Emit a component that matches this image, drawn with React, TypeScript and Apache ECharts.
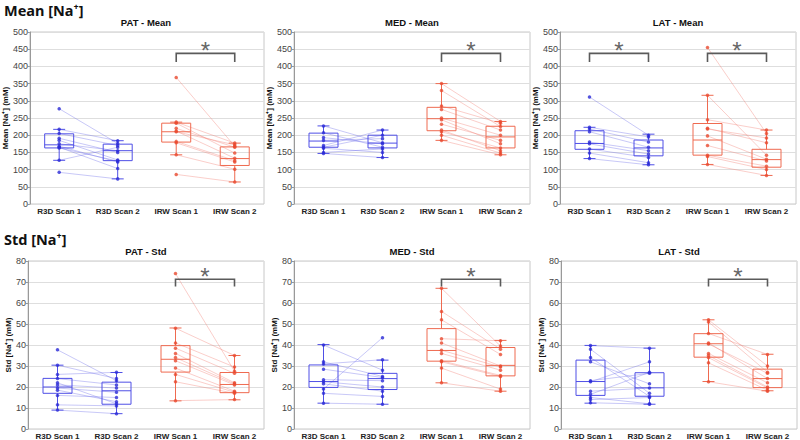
import React, { useEffect, useRef } from 'react';
import * as echarts from 'echarts';

const categories = ['R3D Scan 1', 'R3D Scan 2', 'IRW Scan 1', 'IRW Scan 2'];
const panelTitles = ['PAT - Mean', 'MED - Mean', 'LAT - Mean', 'PAT - Std', 'MED - Std', 'LAT - Std'];
const rowHeaders = ['Mean [Na⁺]', 'Std [Na⁺]'];
const yNames = ['Mean [Na⁺] (mM)', 'Std [Na⁺] (mM)'];
const meanAxis = [0, 500, 50];
const stdAxis = [0, 80, 10];

// PAT - Mean
const patMeanR3D1 = [277, 217, 205, 191, 185, 175, 168, 165, 163, 127, 92];
const patMeanR3D2 = [176, 184, 170, 150, 128, 155, 122, 103, 125, 165, 73];
const patMeanIRW1 = [368, 238, 235, 220, 212, 210, 182, 178, 143, 86];
const patMeanIRW2 = [168, 177, 148, 165, 133, 172, 126, 122, 101, 64];
const patMeanBox = [[127, 163, 172, 204, 217], [73, 126, 155, 174, 184], [143, 180, 210, 235, 238], [64, 112, 132, 166, 177]];
// MED - Mean
const medMeanR3D1 = [227, 207, 193, 170, 165, 162, 150, 147, 185];
const medMeanR3D2 = [178, 165, 175, 215, 200, 150, 160, 135, 190];
const medMeanIRW1 = [350, 330, 285, 275, 250, 245, 232, 215, 210, 200, 185];
const medMeanIRW2 = [240, 225, 235, 215, 200, 175, 185, 155, 163, 148, 143];
const medMeanBox = [[147, 165, 183, 206, 227], [135, 163, 177, 200, 215], [185, 213, 248, 281, 350], [143, 163, 195, 226, 240]];
// LAT - Mean
const latMeanR3D1 = [311, 223, 218, 210, 180, 175, 160, 148, 132];
const latMeanR3D2 = [200, 195, 180, 165, 155, 145, 135, 120, 114];
const latMeanIRW1 = [455, 316, 245, 220, 218, 198, 170, 142, 138, 115];
const latMeanIRW2 = [205, 142, 215, 178, 192, 130, 125, 110, 100, 83];
const latMeanBox = [[132, 159, 176, 213, 223], [114, 140, 163, 186, 203], [115, 142, 186, 234, 316], [83, 107, 129, 159, 215]];
// PAT - Std
const patStdR3D1 = [37.7, 30.4, 26, 24, 22, 21, 19.5, 18.5, 16, 11.5, 9.0];
const patStdR3D2 = [23, 24, 27, 21, 12, 19.5, 17.5, 13, 15, 11, 7.3];
const patStdIRW1 = [74, 48, 41, 38.5, 36, 34, 32.5, 29, 26, 22.5, 13.5];
const patStdIRW2 = [27.5, 35, 29.5, 26.5, 22, 21.5, 21, 18, 17.5, 17, 14];
const patStdBox = [[9, 17, 20, 24.1, 30.4], [7.3, 11.8, 18.2, 22.3, 26.9], [13.4, 27.1, 33.2, 39.7, 48.1], [13.9, 17.3, 21.2, 26.9, 35]];
// MED - Std
const medStdR3D1 = [40, 32, 31, 28.5, 23.5, 22.5, 21.5, 19, 17, 12.3];
const medStdR3D2 = [28, 25, 33, 24.5, 23, 20, 18, 43.5, 15.5, 11.8];
const medStdIRW1 = [67, 56, 52, 43, 41, 37.5, 36, 32.5, 32, 29, 22];
const medStdIRW2 = [39.5, 38, 35.5, 42, 30, 29.5, 28, 25.5, 25, 19, 18];
const medStdBox = [[12.3, 19.8, 22.6, 30.5, 40.2], [11.8, 18.8, 24, 26.5, 32.8], [22, 32.3, 37.4, 47.8, 67], [18, 25.3, 30.3, 38.8, 42.2]];
// LAT - Std
const latStdR3D1 = [39.7, 38, 34, 32, 23, 22.5, 18, 16.5, 15, 14, 12.5];
const latStdR3D2 = [38.5, 17, 15.5, 21.5, 26.5, 32, 19.5, 27, 12, 15, 11.8];
const latStdIRW1 = [52, 51, 45.5, 41, 40.5, 36, 35, 34, 31.5, 22.5];
const latStdIRW2 = [30, 27, 35.5, 24, 26.5, 22, 20, 19.5, 18.5, 18];
const latStdBox = [[12.3, 16, 22.6, 32.8, 39.8], [11.8, 15.6, 19.6, 26.8, 38.5], [22.6, 34.2, 40.6, 45.4, 52], [18.2, 19.7, 24, 28.5, 35.6]];

// significance brackets: [category a, category b]
const patMeanSig = [[2, 3]];
const medMeanSig = [[2, 3]];
const latMeanSig = [[0, 1], [2, 3]];
const patStdSig = [[2, 3]];
const medStdSig = [[2, 3]];
const latStdSig = [[2, 3]];
const meanSigLevels = [413, 438];
const stdSigLevels = [67.8, 71.3];

const panels = [
  { r: [patMeanR3D1, patMeanR3D2, patMeanIRW1, patMeanIRW2], box: patMeanBox, sig: patMeanSig, lv: meanSigLevels, ax: meanAxis, yName: yNames[0] },
  { r: [medMeanR3D1, medMeanR3D2, medMeanIRW1, medMeanIRW2], box: medMeanBox, sig: medMeanSig, lv: meanSigLevels, ax: meanAxis, yName: yNames[0] },
  { r: [latMeanR3D1, latMeanR3D2, latMeanIRW1, latMeanIRW2], box: latMeanBox, sig: latMeanSig, lv: meanSigLevels, ax: meanAxis, yName: yNames[0] },
  { r: [patStdR3D1, patStdR3D2, patStdIRW1, patStdIRW2], box: patStdBox, sig: patStdSig, lv: stdSigLevels, ax: stdAxis, yName: yNames[1] },
  { r: [medStdR3D1, medStdR3D2, medStdIRW1, medStdIRW2], box: medStdBox, sig: medStdSig, lv: stdSigLevels, ax: stdAxis, yName: yNames[1] },
  { r: [latStdR3D1, latStdR3D2, latStdIRW1, latStdIRW2], box: latStdBox, sig: latStdSig, lv: stdSigLevels, ax: stdAxis, yName: yNames[1] },
];

const layout = [
  { left: 28, top: 32, height: 172 },
  { left: 294, top: 32, height: 172 },
  { left: 560, top: 32, height: 172 },
  { left: 28, top: 261, height: 171 },
  { left: 294, top: 261, height: 171 },
  { left: 561, top: 261, height: 171 },
];
const GRID_W = 236;

const BLUE_BOX = '#4f4fe6';
const BLUE_PT = '#2b2bd6';
const RED_BOX = '#ef6a50';
const RED_PT = '#e94a30';
const BLUE_LINE = 'rgba(110,110,235,0.38)';
const RED_LINE = 'rgba(242,125,115,0.38)';
const FONT = 'Liberation Sans, Arial, sans-serif';

function renderPair(params: any, api: any) {
  const a = api.coord([api.value(0), api.value(1)]);
  const b = api.coord([api.value(2), api.value(3)]);
  const blue = api.value(0) < 2;
  return {
    type: 'line',
    shape: { x1: a[0], y1: a[1], x2: b[0], y2: b[1] },
    style: { stroke: blue ? BLUE_LINE : RED_LINE, lineWidth: 1 },
  };
}

function renderBox(params: any, api: any) {
  const c = api.value(0);
  const mn = api.coord([c, api.value(1)]);
  const q1 = api.coord([c, api.value(2)]);
  const md = api.coord([c, api.value(3)]);
  const q3 = api.coord([c, api.value(4)]);
  const mx = api.coord([c, api.value(5)]);
  const color = c < 2 ? BLUE_BOX : RED_BOX;
  const x = mn[0];
  const half = 14.5;
  const cap = 6;
  const st = { stroke: color, lineWidth: 1, fill: 'none' };
  return {
    type: 'group',
    children: [
      { type: 'line', shape: { x1: x, y1: q3[1], x2: x, y2: mx[1] }, style: st },
      { type: 'line', shape: { x1: x, y1: q1[1], x2: x, y2: mn[1] }, style: st },
      { type: 'line', shape: { x1: x - cap, y1: mx[1], x2: x + cap, y2: mx[1] }, style: st },
      { type: 'line', shape: { x1: x - cap, y1: mn[1], x2: x + cap, y2: mn[1] }, style: st },
      { type: 'rect', shape: { x: x - half, y: q3[1], width: half * 2, height: q1[1] - q3[1] }, style: st },
      { type: 'line', shape: { x1: x - half, y1: md[1], x2: x + half, y2: md[1] }, style: st },
    ],
  };
}

function renderSig(params: any, api: any) {
  const a0 = api.coord([api.value(0), api.value(2)]);
  const a1 = api.coord([api.value(0), api.value(3)]);
  const b1 = api.coord([api.value(1), api.value(3)]);
  const b0 = api.coord([api.value(1), api.value(2)]);
  const cx = (a1[0] + b1[0]) / 2;
  return {
    type: 'group',
    children: [
      {
        type: 'polyline',
        shape: { points: [a0, a1, b1, b0] },
        style: { stroke: '#5a5a5a', lineWidth: 1.6, fill: 'none' },
      },
      {
        type: 'text',
        x: cx,
        y: a1[1] - 3,
        style: { text: '*', fill: '#666', font: '24px ' + FONT, align: 'center', verticalAlign: 'middle' },
      },
    ],
  };
}

function buildOption() {
  const grid: any[] = [];
  const xAxis: any[] = [];
  const yAxis: any[] = [];
  const series: any[] = [];
  const title: any[] = [];

  rowHeaders.forEach((t, i) => {
    title.push({
      text: t,
      left: 4,
      top: i === 0 ? 2 : 231,
      padding: 0,
      textStyle: { fontFamily: 'Noto Sans, sans-serif', fontSize: 14.5, fontWeight: 'bold', color: '#111' },
    });
  });

  panels.forEach((p, i) => {
    const L = layout[i];
    grid.push({ left: L.left, top: L.top, width: GRID_W, height: L.height, show: true, borderColor: '#c8c8c8', borderWidth: 1 });
    title.push({
      text: panelTitles[i],
      left: L.left + GRID_W / 2,
      textAlign: 'center',
      top: L.top - 15,
      padding: 0,
      textStyle: { fontFamily: FONT, fontSize: 9.5, fontWeight: 'bold', color: '#111' },
    });
    xAxis.push({
      type: 'category',
      gridIndex: i,
      data: categories,
      axisLine: { show: false },
      axisTick: { show: false },
      splitLine: { show: false },
      axisLabel: { interval: 0, margin: 3, fontSize: 8, fontWeight: 'bold', color: '#222', fontFamily: FONT },
    });
    yAxis.push({
      type: 'value',
      gridIndex: i,
      min: p.ax[0],
      max: p.ax[1],
      interval: p.ax[2],
      name: p.yName,
      nameLocation: 'middle',
      nameGap: 16,
      nameTextStyle: { fontFamily: FONT, fontSize: 8, fontWeight: 'bold', color: '#111' },
      axisLine: { show: true, lineStyle: { color: '#999' } },
      axisTick: { show: true, length: 2, lineStyle: { color: '#999' } },
      axisLabel: { fontSize: 9, color: '#444', margin: 2, fontFamily: FONT },
      splitLine: { show: true, lineStyle: { color: '#dedede', width: 1 } },
    });

    const pairs: number[][] = [];
    p.r[0].forEach((v, j) => { if (p.r[1][j] !== undefined) pairs.push([0, v, 1, p.r[1][j]]); });
    p.r[2].forEach((v, j) => { if (p.r[3][j] !== undefined) pairs.push([2, v, 3, p.r[3][j]]); });

    series.push({
      type: 'custom',
      xAxisIndex: i,
      yAxisIndex: i,
      renderItem: renderPair,
      encode: { x: [0, 2], y: [1, 3] },
      data: pairs,
      z: 1,
      silent: true,
    });
    series.push({
      type: 'custom',
      xAxisIndex: i,
      yAxisIndex: i,
      renderItem: renderBox,
      encode: { x: 0, y: [1, 2, 3, 4, 5] },
      data: p.box.map((b, k) => [k, ...b]),
      z: 2,
      silent: true,
    });
    series.push({
      type: 'scatter',
      xAxisIndex: i,
      yAxisIndex: i,
      symbolSize: 3.5,
      itemStyle: { color: BLUE_PT },
      data: [...p.r[0].map((v) => [0, v]), ...p.r[1].map((v) => [1, v])],
      z: 3,
      silent: true,
    });
    series.push({
      type: 'scatter',
      xAxisIndex: i,
      yAxisIndex: i,
      symbolSize: 3.5,
      itemStyle: { color: RED_PT },
      data: [...p.r[2].map((v) => [2, v]), ...p.r[3].map((v) => [3, v])],
      z: 3,
      silent: true,
    });
    series.push({
      type: 'custom',
      xAxisIndex: i,
      yAxisIndex: i,
      renderItem: renderSig,
      encode: { x: [0, 1], y: [2, 3] },
      data: p.sig.map((s) => [s[0], s[1], p.lv[0], p.lv[1]]),
      z: 4,
      silent: true,
    });
  });

  return { animation: false, backgroundColor: '#ffffff', title, grid, xAxis, yAxis, series };
}

export default function App() {
  const ref = useRef<HTMLDivElement>(null);
  useEffect(() => {
    if (!ref.current) return;
    const chart = echarts.init(ref.current, undefined, { renderer: 'svg' });
    chart.setOption(buildOption() as any);
    return () => chart.dispose();
  }, []);
  return <div ref={ref} style={{ position: 'fixed', left: 0, top: 0, width: 800, height: 440, background: '#fff' }} />;
}
